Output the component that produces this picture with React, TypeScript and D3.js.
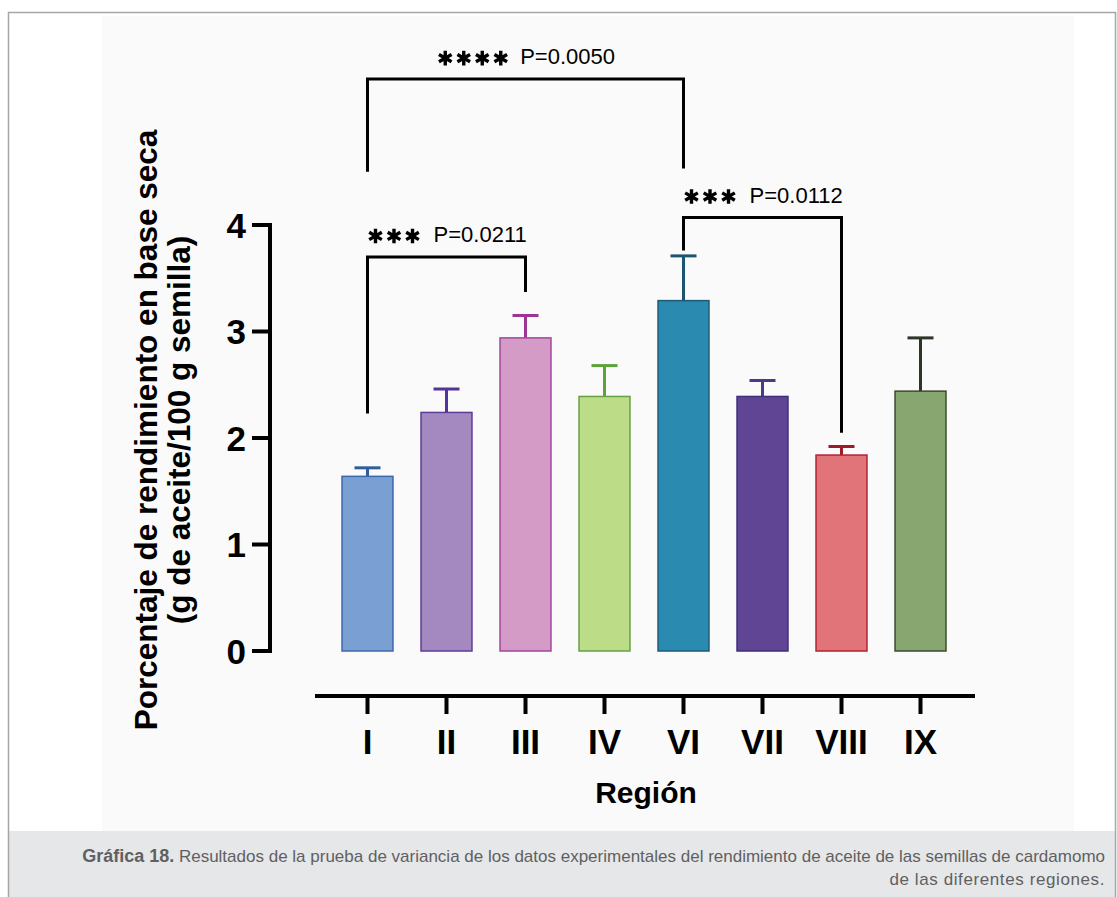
import React from 'react'
import * as d3 from 'd3'

// data
const regions = ['I', 'II', 'III', 'IV', 'VI', 'VII', 'VIII', 'IX']
const means = [1.64, 2.24, 2.94, 2.39, 3.29, 2.39, 1.84, 2.44]
const errUp = [0.08, 0.22, 0.21, 0.29, 0.42, 0.15, 0.08, 0.50]
const fills = ['#7a9fd3', '#a489c0', '#d49bc6', '#bcdc87', '#2a8ab0', '#5f4594', '#e07478', '#88a66f']
const strokes = ['#3b68ad', '#5a3d98', '#a2479e', '#66a144', '#1c5a78', '#3f2f78', '#b22234', '#3b4a30']
const errColors = ['#2e5e9e', '#52349a', '#9c3596', '#5ea23c', '#1b5570', '#4d3a85', '#9e1a2a', '#2c3626']
const yTicks = [0, 1, 2, 3, 4]

// significance brackets: from, to, stars, p, bar level, left leg end, right leg end
const brFrom = ['I', 'I', 'VI']
const brTo = ['VI', 'III', 'VIII']
const brStars = [4, 3, 3]
const brP = ['P=0.0050', 'P=0.0211', 'P=0.0112']
const brLevel = [5.37, 3.70, 4.07]
const brLeftEnd = [4.50, 2.23, 3.76]
const brRightEnd = [4.53, 3.37, 2.05]

const W = 1117
const H = 897

export default function App() {
  const x = d3.scaleBand<string>()
    .domain(regions)
    .range([328, 960])
    .paddingInner(0.355)
    .paddingOuter(0.1775)
  const y = d3.scaleLinear().domain([0, 4]).range([651, 225])
  const cx = (r: string) => (x(r) as number) + x.bandwidth() / 2
  const star = d3.symbol(d3.symbolAsterisk, 150)
  const font = 'Liberation Sans, Arial, Helvetica, sans-serif'
  const capFont = 'Liberation Sans, Arial, sans-serif'

  return (
    <svg width={W} height={H} style={{ position: 'absolute', left: 0, top: 0, display: 'block' }}>
      {/* frame */}
      <rect x={0} y={0} width={W} height={H} fill="#ffffff" />
      <rect x={102} y={16} width={972} height={815} fill="#fafafa" />
      <rect x={8} y={831} width={1107} height={66} fill="#e6e7e8" />
      <path d={`M8.5,${H} V12.5 H1115.5 V${H}`} fill="none" stroke="#a6a6a6" strokeWidth={1.5} />

      {/* bars */}
      {regions.map((r, i) => (
        <g key={r}>
          <line x1={cx(r)} x2={cx(r)} y1={y(means[i])} y2={y(means[i] + errUp[i])}
            stroke={errColors[i]} strokeWidth={3} />
          <line x1={cx(r) - 13} x2={cx(r) + 13} y1={y(means[i] + errUp[i])} y2={y(means[i] + errUp[i])}
            stroke={errColors[i]} strokeWidth={3} />
          <rect x={x(r)} y={y(means[i])} width={x.bandwidth()} height={y(0) - y(means[i])}
            fill={fills[i]} stroke={strokes[i]} strokeWidth={1.5} />
        </g>
      ))}

      {/* y axis */}
      <line x1={270} x2={270} y1={y(0) + 2} y2={y(4) - 2} stroke="#000" strokeWidth={4} />
      {yTicks.map(t => (
        <g key={t}>
          <line x1={252} x2={272} y1={y(t)} y2={y(t)} stroke="#000" strokeWidth={4} />
          <text x={246} y={y(t)} dy="0.36em" textAnchor="end" fontFamily={font}
            fontWeight="bold" fontSize={35}>{t}</text>
        </g>
      ))}
      <text transform={`translate(157,${430}) rotate(-90)`} textAnchor="middle" fontFamily={font}
        fontWeight="bold" fontSize={31.5}>Porcentaje de rendimiento en base seca</text>
      <text transform={`translate(190,${430}) rotate(-90)`} textAnchor="middle" fontFamily={font}
        fontWeight="bold" fontSize={31.5}>(g de aceite/100 g semilla)</text>

      {/* x axis */}
      <line x1={315} x2={975} y1={696} y2={696} stroke="#000" strokeWidth={4} />
      {regions.map(r => (
        <g key={r}>
          <line x1={cx(r)} x2={cx(r)} y1={696} y2={714} stroke="#000" strokeWidth={4} />
          <text x={cx(r)} y={754} textAnchor="middle" fontFamily={font} fontWeight="bold"
            fontSize={35}>{r}</text>
        </g>
      ))}
      <text x={646} y={803} textAnchor="middle" fontFamily={font} fontWeight="bold"
        fontSize={30}>Región</text>

      {/* significance brackets */}
      {brFrom.map((f, i) => {
        const x1 = cx(f)
        const x2 = cx(brTo[i])
        const yl = y(brLevel[i])
        const mid = (x1 + x2) / 2
        const pitch = 18.5
        const total = brStars[i] * pitch + 10 + 95
        const start = mid - total / 2
        return (
          <g key={i}>
            <path d={`M${x1},${y(brLeftEnd[i])} V${yl} H${x2} V${y(brRightEnd[i])}`}
              fill="none" stroke="#000" strokeWidth={3} />
            {d3.range(brStars[i]).map(k => (
              <path key={k} d={star() as string}
                transform={`translate(${start + pitch / 2 + k * pitch},${yl - 21})`}
                fill="none" stroke="#000" strokeWidth={3.4} />
            ))}
            <text x={start + total} y={yl - 15} textAnchor="end" fontFamily={font}
              fontSize={22}>{brP[i]}</text>
          </g>
        )
      })}

      {/* caption */}
      <text x={1105} y={862} textAnchor="end" fontFamily={capFont} fontSize={17} fill="#5f6062">
        <tspan fontWeight="bold" fontSize={18}>Gráfica 18.</tspan>
        <tspan> Resultados de la prueba de variancia de los datos experimentales del rendimiento de aceite de las semillas de cardamomo</tspan>
      </text>
      <text x={1105} y={885} textAnchor="end" fontFamily={capFont} fontSize={17} fill="#5f6062"
        letterSpacing={0.6}>de las diferentes regiones.</text>
    </svg>
  )
}
